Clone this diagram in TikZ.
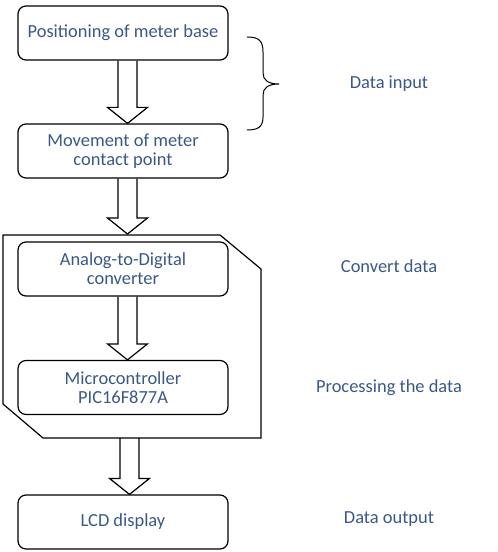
\documentclass[tikz,border=0pt]{standalone}
\usepackage{fontspec}
\setmainfont{Carlito}
\usetikzlibrary{calc}
\definecolor{labelblue}{HTML}{3A5887}
% hollow block arrow from one point down to another
\newcommand{\blockarrow}[2]{%
  \draw[blockarr] let \p1=(#1), \p2=(#2) in
    (\x1-9.5bp,\y1) -- (\x1-9.5bp,\y2+16bp) -- (\x1-20bp,\y2+16bp) -- (\x1,\y2)
    -- (\x1+20bp,\y2+16bp) -- (\x1+9.5bp,\y2+16bp) -- (\x1+9.5bp,\y1);}
\begin{document}
\begin{tikzpicture}[x=1bp,y=-1bp,
    stepbox/.style={draw,rounded corners=8bp,line width=1.2bp,minimum width=210bp,
      minimum height=54bp,align=center,text=labelblue,font=\fontsize{18.5}{19}\selectfont},
    sidelabel/.style={text=labelblue,font=\fontsize{18.5}{19}\selectfont},
    blockarr/.style={line width=1.2bp,line join=miter}]
  \useasboundingbox (0,0) rectangle (498,552);
  % blocks
  \node[stepbox] (base) at (123,33) {Positioning of meter base};
  \node[stepbox] (contact) at (123,151) {Movement of meter\\contact point};
  \node[stepbox] (adc) at (123,269) {Analog-to-Digital\\converter};
  \node[stepbox] (mcu) at (123,387.5) {Microcontroller\\PIC16F877A};
  \node[stepbox] (lcd) at (123,522) {LCD display};
  % frame round adc and mcu
  \draw[line width=1.2bp] (3,235) -- (220,235) -- (261,269) -- (261,438)
    -- (43,438) -- (3,404) -- cycle;
  \coordinate (frametop) at (127.5,234);
  \coordinate (framebot) at (129.5,438);
  % arrows
  \blockarrow{$(base.south)+(4.5,0)$}{contact.north}
  \blockarrow{$(contact.south)+(4.5,0)$}{frametop}
  \blockarrow{$(adc.south)+(4.5,0)$}{mcu.north}
  \blockarrow{framebot}{lcd.north}
  % brace
  \draw[line width=1bp] (247,37) .. controls (258,37) and (263,40) .. (263,52) -- (263,73)
    .. controls (263,80) and (268,84) .. (279,84) .. controls (268,84) and (263,88) .. (263,95)
    -- (263,117) .. controls (263,127) and (258,130) .. (247,130);
  % stages
  \node[sidelabel] (input) at (389,84) {Data input};
  \node[sidelabel] (convert) at (389,266) {Convert data};
  \node[sidelabel] (process) at (389,388) {Processing the data};
  \node[sidelabel] (output) at (389,519) {Data output};
\end{tikzpicture}
\end{document}
